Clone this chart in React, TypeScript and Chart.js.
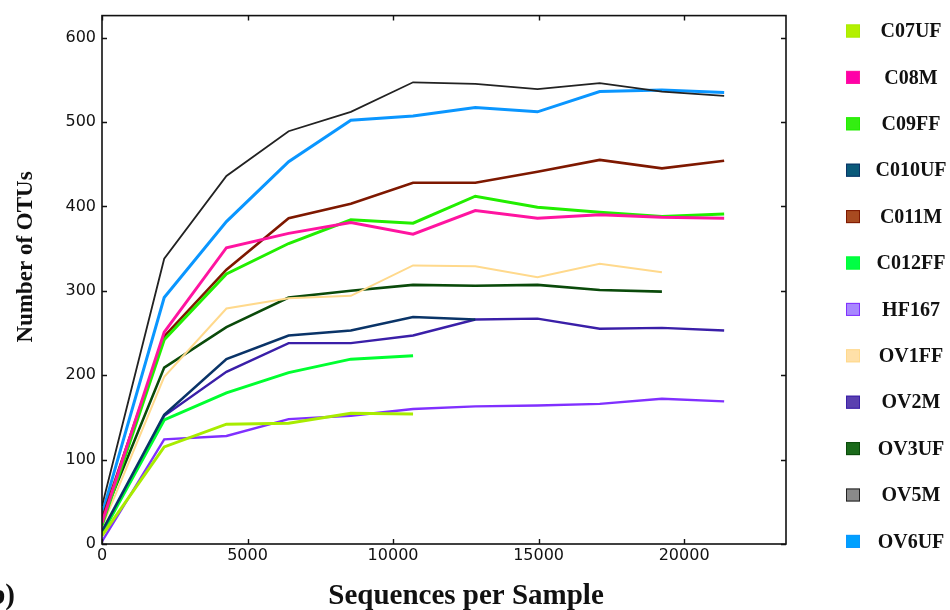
import React, { useEffect, useRef } from "react";
import { Chart, registerables } from "chart.js";

Chart.register(...registerables);

// ---- data ----
const seqDepths = [0, 2137, 4275, 6412, 8550, 10687, 12825, 14962, 17100, 19237, 21375];

const sampleNames = [
  "C07UF", "C08M", "C09FF", "C010UF", "C011M", "C012FF",
  "HF167", "OV1FF", "OV2M", "OV3UF", "OV5M", "OV6UF",
];

const C07UF = [10, 115, 142, 143, 155, 154];
const C08M = [25, 251, 351, 368, 381, 367, 395, 386, 390, 387, 386];
const C09FF = [22, 242, 320, 356, 384, 380, 412, 399, 393, 388, 391];
const C010UF = [15, 153, 219, 247, 253, 269, 266];
const C011M = [30, 246, 325, 386, 403, 428, 428, 441, 455, 445, 454];
const C012FF = [12, 147, 179, 203, 219, 223];
const HF167 = [3, 124, 128, 148, 152, 160, 163, 164, 166, 172, 169];
const OV1FF = [20, 198, 279, 291, 294, 330, 329, 316, 332, 322];
const OV2M = [12, 152, 204, 238, 238, 247, 266, 267, 255, 256, 253];
const OV3UF = [28, 209, 257, 292, 300, 307, 306, 307, 301, 299];
const OV5M = [45, 338, 436, 489, 512, 547, 545, 539, 546, 536, 531];
const OV6UF = [35, 292, 382, 453, 502, 507, 517, 512, 536, 538, 535];

const seriesValues = [C07UF, C08M, C09FF, C010UF, C011M, C012FF, HF167, OV1FF, OV2M, OV3UF, OV5M, OV6UF];

const lineColors = [
  "#a8ec00", "#ff14a0", "#22ee00", "#0a3468", "#7e1800", "#00ff30",
  "#8030ff", "#ffd98c", "#3a1fa8", "#0a4a0a", "#222222", "#0a96ff",
];
const swatchColors = [
  "#b4f000", "#ff00a8", "#33ee11", "#0a5a7a", "#a84a20", "#00ff44",
  "#a888ff", "#ffe0a8", "#5a40b0", "#1a6a1a", "#8a8a8a", "#00a0ff",
];
const lineWidths = [3, 3, 3, 2.6, 2.6, 3, 2.4, 2, 2.4, 2.6, 1.8, 3];

const xTickValues = [0, 5000, 10000, 15000, 20000];
const yTickValues = [0, 100, 200, 300, 400, 500, 600];

const xTitle = "Sequences per Sample";
const yTitle = "Number of OTUs";
const panelLabel = "b)";

const framePlugin = {
  id: "frameAndText",
  afterDraw(chart: any) {
    const { ctx, chartArea } = chart;
    const xs = chart.scales.x;
    const ys = chart.scales.y;
    const { left, right, top, bottom } = chartArea;
    ctx.save();
    // frame
    ctx.strokeStyle = "#111";
    ctx.lineWidth = 1.6;
    ctx.strokeRect(left, top, right - left, bottom - top);
    // inward ticks
    ctx.lineWidth = 1.4;
    const tl = 5;
    ctx.beginPath();
    xTickValues.forEach((v) => {
      const px = Math.round(xs.getPixelForValue(v)) + 0.5;
      ctx.moveTo(px, bottom);
      ctx.lineTo(px, bottom - tl);
      ctx.moveTo(px, top);
      ctx.lineTo(px, top + tl);
    });
    yTickValues.forEach((v) => {
      const py = Math.round(ys.getPixelForValue(v)) + 0.5;
      ctx.moveTo(left, py);
      ctx.lineTo(left + tl, py);
      ctx.moveTo(right, py);
      ctx.lineTo(right - tl, py);
    });
    ctx.stroke();

    // axis titles
    ctx.fillStyle = "#111";
    ctx.font = "bold 23px 'Liberation Serif'";
    ctx.textAlign = "center";
    ctx.textBaseline = "alphabetic";
    ctx.save();
    ctx.translate(32, 257);
    ctx.rotate(-Math.PI / 2);
    ctx.fillText(yTitle, 0, 0);
    ctx.restore();

    ctx.font = "bold 29px 'Liberation Serif'";
    ctx.fillText(xTitle, 466, 604);
    ctx.textAlign = "right";
    ctx.fillText(panelLabel, 15, 604);

    // legend
    chart.data.datasets.forEach((ds: any, i: number) => {
      const cy = 31 + i * 46.4;
      ctx.fillStyle = swatchColors[i];
      ctx.fillRect(846, cy - 6.5, 14, 13);
      ctx.strokeStyle = lineColors[i];
      ctx.lineWidth = 1;
      ctx.strokeRect(846.5, cy - 6, 13, 12);
      ctx.fillStyle = "#111";
      ctx.font = "bold 20px 'Liberation Serif'";
      ctx.textAlign = "center";
      ctx.textBaseline = "middle";
      ctx.fillText(ds.label, 911, cy + 1);
    });
    ctx.restore();
  },
};

export default function App() {
  const canvasRef = useRef<HTMLCanvasElement | null>(null);

  useEffect(() => {
    if (!canvasRef.current) return;
    const datasets = sampleNames.map((name, i) => ({
      label: name,
      data: seriesValues[i].map((v, j) => ({ x: seqDepths[j], y: v })),
      borderColor: lineColors[i],
      backgroundColor: lineColors[i],
      borderWidth: lineWidths[i],
      pointRadius: 0,
      tension: 0,
      fill: false,
    }));
    const chart = new Chart(canvasRef.current, {
      type: "line",
      data: { datasets },
      plugins: [framePlugin],
      options: {
        responsive: false,
        animation: false,
        layout: { padding: { left: 0, top: 15, right: 164, bottom: 0 } },
        plugins: { legend: { display: false }, tooltip: { enabled: false } },
        scales: {
          x: {
            type: "linear",
            min: 0,
            max: 23500,
            grid: { display: false, drawTicks: false },
            border: { display: false },
            afterBuildTicks: (s: any) => {
              s.ticks = xTickValues.map((v) => ({ value: v }));
            },
            afterFit: (s: any) => {
              s.height = 66;
            },
            ticks: {
              padding: 2,
              color: "#111",
              font: { family: "'DejaVu Sans'", size: 16 },
              maxRotation: 0,
              autoSkip: false,
              callback: (v: any) => String(v),
            },
          },
          y: {
            type: "linear",
            min: 0,
            max: 626,
            grid: { display: false, drawTicks: false },
            border: { display: false },
            afterBuildTicks: (s: any) => {
              s.ticks = yTickValues.map((v) => ({ value: v }));
            },
            afterFit: (s: any) => {
              s.width = 102;
            },
            ticks: {
              padding: 6,
              color: "#111",
              font: { family: "'DejaVu Sans'", size: 16 },
              autoSkip: false,
              callback: (v: any) => String(v),
            },
          },
        },
      },
    });
    return () => chart.destroy();
  }, []);

  return (
    <div style={{ position: "fixed", left: 0, top: 0, width: 950, height: 610, background: "#fff" }}>
      <canvas ref={canvasRef} width={950} height={610} style={{ display: "block" }} />
    </div>
  );
}
